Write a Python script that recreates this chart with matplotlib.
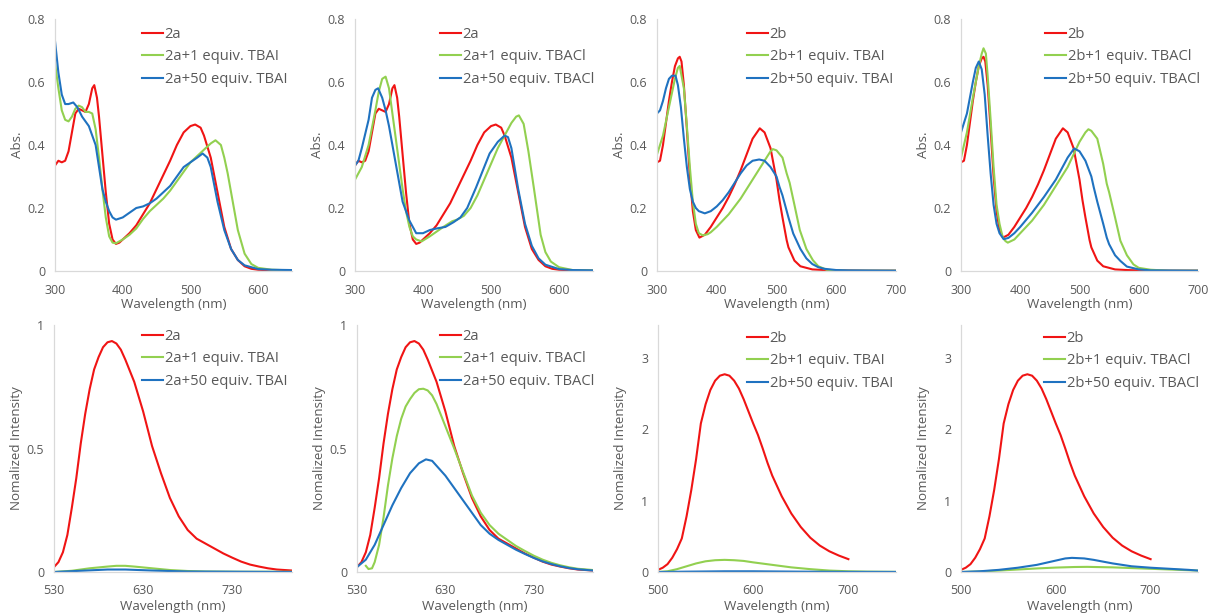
"""Absorption and emission spectra of 2a / 2b with TBAI and TBACl added."""
import matplotlib

matplotlib.use("Agg")
import matplotlib.pyplot as plt
from matplotlib.ticker import FuncFormatter

plt.rcParams["font.family"] = ["Open Sans", "DejaVu Sans"]

RED = "#F01414"
GREEN = "#92D050"
BLUE = "#1F72C0"
GREY = "#595959"
AXIS = "#D9D9D9"

# ---- UV-vis absorption -------------------------------------------------
abs_wl_2a = [300, 305, 310, 315, 320, 325, 330, 335, 340, 345, 350, 355, 358, 362, 365,
             370, 375, 380, 385, 390, 395, 400, 410, 420, 430, 440, 450, 460, 470, 480,
             490, 500, 507, 515, 520, 530, 540, 550, 560, 570, 580, 590, 600, 620, 650]
abs_2a = [0.335, 0.35, 0.345, 0.35, 0.38, 0.44, 0.50, 0.515, 0.51, 0.505, 0.53, 0.58, 0.59,
          0.55, 0.49, 0.37, 0.25, 0.15, 0.10, 0.086, 0.09, 0.10, 0.12, 0.145, 0.18, 0.215,
          0.26, 0.305, 0.35, 0.40, 0.44, 0.46, 0.465, 0.455, 0.43, 0.36, 0.25, 0.14, 0.07,
          0.035, 0.015, 0.007, 0.004, 0.002, 0.001]

abs_wl_2a_tbai1 = [300, 305, 310, 315, 320, 325, 330, 335, 340, 345, 350, 355, 360, 365, 370,
                   375, 380, 385, 390, 400, 410, 420, 430, 440, 450, 460, 470, 480, 490, 500,
                   510, 520, 530, 537, 545, 550, 555, 560, 570, 580, 590, 600, 620, 650]
abs_2a_tbai1 = [0.66, 0.58, 0.51, 0.48, 0.475, 0.49, 0.515, 0.525, 0.52, 0.505, 0.505, 0.50,
                0.45, 0.36, 0.26, 0.17, 0.11, 0.09, 0.088, 0.10, 0.115, 0.135, 0.165, 0.19,
                0.21, 0.23, 0.255, 0.285, 0.315, 0.345, 0.365, 0.385, 0.405, 0.415, 0.40,
                0.36, 0.31, 0.25, 0.13, 0.055, 0.022, 0.01, 0.004, 0.002]

abs_wl_2a_tbai50 = [300, 305, 310, 315, 320, 327, 333, 340, 345, 350, 355, 360, 365, 370, 375,
                    380, 385, 390, 400, 410, 420, 430, 440, 450, 460, 470, 480, 490, 500, 510,
                    518, 525, 530, 540, 550, 560, 570, 580, 600, 620, 650]
abs_2a_tbai50 = [0.73, 0.63, 0.56, 0.53, 0.53, 0.535, 0.52, 0.49, 0.475, 0.46, 0.43, 0.40,
                 0.33, 0.26, 0.22, 0.19, 0.17, 0.163, 0.17, 0.185, 0.20, 0.205, 0.215, 0.23,
                 0.25, 0.27, 0.30, 0.33, 0.345, 0.36, 0.373, 0.36, 0.33, 0.22, 0.13, 0.07,
                 0.035, 0.018, 0.006, 0.004, 0.003]

abs_wl_2a_tbacl1 = [300, 310, 320, 330, 335, 340, 345, 350, 355, 360, 365, 370, 375, 380, 385,
                    390, 398, 410, 420, 430, 443, 450, 460, 470, 480, 490, 500, 510, 520, 530,
                    537, 541, 548, 555, 563, 573, 580, 588, 600, 620, 650]
abs_2a_tbacl1 = [0.29, 0.33, 0.40, 0.51, 0.57, 0.61, 0.617, 0.58, 0.50, 0.42, 0.34, 0.26, 0.19,
                 0.14, 0.11, 0.10, 0.094, 0.11, 0.125, 0.14, 0.158, 0.163, 0.175, 0.20, 0.24,
                 0.29, 0.34, 0.39, 0.43, 0.47, 0.49, 0.494, 0.467, 0.38, 0.264, 0.115, 0.06,
                 0.03, 0.012, 0.003, 0.002]

abs_wl_2a_tbacl50 = [300, 305, 310, 320, 325, 330, 334, 340, 345, 350, 355, 360, 365, 370, 375,
                     380, 390, 400, 410, 420, 433, 445, 455, 465, 478, 490, 498, 510, 520, 525,
                     530, 540, 550, 560, 570, 580, 600, 620, 650]
abs_2a_tbacl50 = [0.335, 0.35, 0.39, 0.48, 0.55, 0.575, 0.58, 0.55, 0.51, 0.46, 0.40, 0.34,
                  0.28, 0.22, 0.19, 0.16, 0.12, 0.12, 0.13, 0.135, 0.14, 0.155, 0.17, 0.20,
                  0.265, 0.33, 0.373, 0.41, 0.43, 0.425, 0.39, 0.26, 0.15, 0.08, 0.04, 0.02,
                  0.006, 0.003, 0.002]

abs_wl_2b = [300, 305, 310, 315, 320, 325, 330, 335, 338, 341, 345, 350, 355, 360, 365, 371,
             380, 390, 400, 410, 420, 430, 440, 450, 460, 472, 480, 490, 500, 505, 510, 517,
             520, 530, 540, 560, 580, 600, 650, 700]
abs_2b = [0.345, 0.35, 0.40, 0.47, 0.54, 0.60, 0.65, 0.675, 0.68, 0.665, 0.59, 0.45, 0.30,
          0.19, 0.13, 0.106, 0.115, 0.14, 0.17, 0.20, 0.235, 0.275, 0.32, 0.37, 0.42, 0.453,
          0.44, 0.39, 0.29, 0.225, 0.17, 0.098, 0.075, 0.033, 0.015, 0.005, 0.003, 0.002,
          0.001, 0.001]

abs_wl_2b_tbai1 = [300, 310, 320, 330, 335, 338, 345, 350, 355, 360, 365, 370, 377, 385, 390,
                   400, 420, 440, 460, 480, 490, 494, 500, 510, 517, 522, 530, 539, 550, 561,
                   570, 584, 600, 620, 700]
abs_2b_tbai1 = [0.37, 0.43, 0.52, 0.61, 0.645, 0.651, 0.58, 0.46, 0.33, 0.22, 0.15, 0.12,
                0.113, 0.117, 0.123, 0.14, 0.18, 0.23, 0.29, 0.35, 0.38, 0.387, 0.383, 0.36,
                0.31, 0.28, 0.21, 0.13, 0.07, 0.034, 0.015, 0.004, 0.002, 0.001, 0.001]

abs_wl_2b_tbai50 = [300, 305, 310, 315, 320, 325, 331, 335, 340, 345, 350, 355, 360, 365, 370,
                    380, 390, 400, 410, 420, 430, 440, 450, 460, 471, 480, 490, 500, 505, 510,
                    520, 528, 540, 550, 560, 570, 580, 600, 620, 700]
abs_2b_tbai50 = [0.50, 0.51, 0.54, 0.58, 0.61, 0.62, 0.62, 0.59, 0.52, 0.42, 0.33, 0.26, 0.22,
                 0.20, 0.19, 0.183, 0.19, 0.205, 0.225, 0.25, 0.28, 0.31, 0.335, 0.35, 0.354,
                 0.35, 0.33, 0.30, 0.267, 0.24, 0.17, 0.119, 0.07, 0.04, 0.022, 0.012, 0.007,
                 0.003, 0.002, 0.001]

abs_wl_2b_tbacl1 = [300, 310, 320, 330, 335, 338, 342, 345, 350, 355, 360, 365, 370, 375, 379,
                    390, 400, 420, 440, 460, 480, 490, 500, 510, 515, 520, 530, 540, 546, 550,
                    560, 569, 580, 591, 600, 620, 650, 700]
abs_2b_tbacl1 = [0.36, 0.44, 0.55, 0.65, 0.69, 0.707, 0.69, 0.62, 0.48, 0.33, 0.21, 0.15, 0.11,
                 0.095, 0.09, 0.10, 0.12, 0.16, 0.21, 0.27, 0.33, 0.37, 0.41, 0.44, 0.45, 0.445,
                 0.42, 0.34, 0.277, 0.25, 0.17, 0.096, 0.05, 0.021, 0.01, 0.004, 0.001, 0.001]

abs_wl_2b_tbacl50 = [300, 305, 310, 315, 320, 325, 330, 335, 340, 345, 350, 355, 360, 365, 372,
                     380, 390, 400, 420, 440, 460, 470, 480, 491, 500, 510, 520, 524, 530, 540,
                     546, 550, 560, 569, 580, 600, 620, 700]
abs_2b_tbacl50 = [0.44, 0.47, 0.50, 0.55, 0.60, 0.645, 0.665, 0.64, 0.56, 0.43, 0.31, 0.21,
                  0.15, 0.12, 0.101, 0.105, 0.12, 0.14, 0.185, 0.235, 0.29, 0.325, 0.36, 0.389,
                  0.38, 0.35, 0.30, 0.266, 0.22, 0.15, 0.106, 0.085, 0.05, 0.032, 0.014, 0.005,
                  0.002, 0.001]

# ---- emission ----------------------------------------------------------
em_wl_2a = [530, 535, 540, 545, 550, 555, 560, 565, 570, 575, 580, 585, 590, 595, 600, 605,
            610, 620, 630, 640, 650, 660, 670, 680, 690, 700, 710, 720, 730, 740, 750, 760,
            770, 780, 797]
em_2a = [0.02, 0.04, 0.08, 0.15, 0.26, 0.38, 0.52, 0.64, 0.74, 0.82, 0.87, 0.91, 0.93, 0.935,
         0.925, 0.90, 0.86, 0.77, 0.65, 0.51, 0.40, 0.30, 0.225, 0.17, 0.135, 0.115, 0.095,
         0.075, 0.058, 0.042, 0.03, 0.022, 0.015, 0.01, 0.006]

em_wl_2a_tbai1 = [530, 550, 570, 590, 600, 610, 620, 640, 660, 680, 700, 740, 797]
em_2a_tbai1 = [0.0, 0.005, 0.015, 0.022, 0.025, 0.025, 0.022, 0.015, 0.008, 0.004, 0.002,
               0.001, 0.001]

em_wl_2a_tbai50 = [530, 560, 590, 610, 640, 680, 797]
em_2a_tbai50 = [0.0, 0.005, 0.01, 0.01, 0.006, 0.002, 0.0]

em_wl_2a_tbacl1 = [540, 543, 547, 550, 555, 560, 565, 570, 575, 580, 585, 590, 595, 600, 605,
                   610, 615, 620, 630, 640, 650, 660, 670, 680, 690, 700, 710, 720, 730, 740,
                   750, 760, 770, 780, 797]
em_2a_tbacl1 = [0.025, 0.012, 0.015, 0.04, 0.11, 0.22, 0.35, 0.46, 0.55, 0.62, 0.67, 0.70,
                0.725, 0.74, 0.742, 0.735, 0.715, 0.68, 0.59, 0.50, 0.405, 0.31, 0.24, 0.19,
                0.155, 0.13, 0.105, 0.085, 0.066, 0.05, 0.037, 0.027, 0.019, 0.013, 0.008]

em_wl_2a_tbacl50 = [530, 540, 550, 560, 570, 580, 590, 600, 608, 615, 620, 630, 640, 650, 660,
                    670, 680, 690, 700, 710, 720, 730, 740, 750, 760, 770, 780, 797]
em_2a_tbacl50 = [0.02, 0.05, 0.11, 0.19, 0.27, 0.34, 0.40, 0.44, 0.456, 0.45, 0.43, 0.39, 0.34,
                 0.29, 0.24, 0.19, 0.155, 0.13, 0.11, 0.09, 0.073, 0.057, 0.043, 0.032, 0.023,
                 0.016, 0.011, 0.006]

em_wl_2b = [500, 505, 510, 515, 520, 525, 530, 535, 540, 545, 550, 555, 560, 565, 570, 575,
            580, 585, 590, 595, 600, 605, 610, 615, 620, 630, 640, 650, 660, 670, 680, 690, 700]
em_2b = [0.03, 0.06, 0.11, 0.2, 0.32, 0.47, 0.78, 1.15, 1.58, 2.08, 2.35, 2.55, 2.68, 2.75,
         2.77, 2.75, 2.68, 2.57, 2.42, 2.25, 2.08, 1.92, 1.73, 1.53, 1.35, 1.06, 0.82, 0.63,
         0.48, 0.37, 0.29, 0.23, 0.18]

em_wl_2b_tbai1 = [500, 510, 520, 530, 540, 550, 560, 570, 580, 590, 600, 620, 640, 660, 680,
                  700, 720, 750]
em_2b_tbai1 = [0.0, 0.01, 0.04, 0.08, 0.12, 0.15, 0.165, 0.17, 0.165, 0.155, 0.135, 0.1, 0.065,
               0.04, 0.02, 0.01, 0.005, 0.002]

em_wl_2b_tbai50 = [500, 530, 570, 600, 650, 700, 750]
em_2b_tbai50 = [0.0, 0.005, 0.01, 0.01, 0.005, 0.002, 0.001]

em_wl_2b_tbacl1 = [500, 520, 540, 560, 580, 600, 620, 633, 660, 700, 730, 750]
em_2b_tbacl1 = [0.0, 0.008, 0.02, 0.035, 0.05, 0.062, 0.07, 0.072, 0.065, 0.045, 0.03, 0.02]

em_wl_2b_tbacl50 = [500, 520, 540, 560, 580, 600, 610, 617, 630, 640, 660, 680, 700, 720, 740,
                    750]
em_2b_tbacl50 = [0.0, 0.01, 0.03, 0.06, 0.1, 0.16, 0.19, 0.198, 0.19, 0.17, 0.12, 0.08, 0.06,
                 0.045, 0.03, 0.02]

W, H = 1209, 613


def rect(left, right, top, bottom):
    return [left / W, 1 - bottom / H, (right - left) / W, (bottom - top) / H]


def series(cmpd, salt, curves):
    labels = [cmpd, f"{cmpd}+1 equiv. {salt}", f"{cmpd}+50 equiv. {salt}"]
    return [(x, y, c, lab) for (x, y), c, lab in zip(curves, (RED, GREEN, BLUE), labels)]


panels = [
    # (box px, xlim, xticks, ylim, yticks, ylabel, legend anchor px, curves)
    ((55, 292, 19, 271), (300, 650), [300, 400, 500, 600], (0, 0.8), [0, 0.2, 0.4, 0.6, 0.8],
     "Abs.", (142, 27),
     series("2a", "TBAI", [(abs_wl_2a, abs_2a), (abs_wl_2a_tbai1, abs_2a_tbai1),
                           (abs_wl_2a_tbai50, abs_2a_tbai50)])),
    ((355, 593, 19, 271), (300, 650), [300, 400, 500, 600], (0, 0.8), [0, 0.2, 0.4, 0.6, 0.8],
     "Abs.", (440, 27),
     series("2a", "TBACl", [(abs_wl_2a, abs_2a), (abs_wl_2a_tbacl1, abs_2a_tbacl1),
                            (abs_wl_2a_tbacl50, abs_2a_tbacl50)])),
    ((657, 896, 19, 271), (300, 700), [300, 400, 500, 600, 700], (0, 0.8),
     [0, 0.2, 0.4, 0.6, 0.8], "Abs.", (747, 27),
     series("2b", "TBAI", [(abs_wl_2b, abs_2b), (abs_wl_2b_tbai1, abs_2b_tbai1),
                           (abs_wl_2b_tbai50, abs_2b_tbai50)])),
    ((961, 1198, 19, 271), (300, 700), [300, 400, 500, 600, 700], (0, 0.8),
     [0, 0.2, 0.4, 0.6, 0.8], "Abs.", (1045, 27),
     series("2b", "TBACl", [(abs_wl_2b, abs_2b), (abs_wl_2b_tbacl1, abs_2b_tbacl1),
                            (abs_wl_2b_tbacl50, abs_2b_tbacl50)])),
    ((54, 292, 325, 572), (530, 797), [530, 630, 730], (0, 1), [0, 0.5, 1],
     "Nomalized Intensity", (142, 329),
     series("2a", "TBAI", [(em_wl_2a, em_2a), (em_wl_2a_tbai1, em_2a_tbai1),
                           (em_wl_2a_tbai50, em_2a_tbai50)])),
    ((357, 593, 325, 572), (530, 797), [530, 630, 730], (0, 1), [0, 0.5, 1],
     "Nomalized Intensity", (440, 329),
     series("2a", "TBACl", [(em_wl_2a, em_2a), (em_wl_2a_tbacl1, em_2a_tbacl1),
                            (em_wl_2a_tbacl50, em_2a_tbacl50)])),
    ((658, 896, 325, 572), (500, 750), [500, 600, 700], (0, 3.46), [0, 1, 2, 3],
     "Nomalized Intensity", (747, 331),
     series("2b", "TBAI", [(em_wl_2b, em_2b), (em_wl_2b_tbai1, em_2b_tbai1),
                           (em_wl_2b_tbai50, em_2b_tbai50)])),
    ((961, 1198, 325, 572), (500, 750), [500, 600, 700], (0, 3.46), [0, 1, 2, 3],
     "Nomalized Intensity", (1044, 331),
     series("2b", "TBACl", [(em_wl_2b, em_2b), (em_wl_2b_tbacl1, em_2b_tbacl1),
                            (em_wl_2b_tbacl50, em_2b_tbacl50)])),
]

fig = plt.figure(figsize=(W / 100, H / 100), dpi=100)

for i, (box, xlim, xticks, ylim, yticks, ylabel, anchor, curves) in enumerate(panels):
    ax = fig.add_axes(rect(*box))
    for x, y, color, label in curves:
        ax.plot(x, y, color=color, lw=1.5, label=label)
    ax.set_xlim(*xlim)
    ax.set_ylim(*ylim)
    ax.set_xticks(xticks)
    ax.set_yticks(yticks)
    ax.xaxis.set_major_formatter(FuncFormatter(lambda v, _: f"{v:g}"))
    ax.yaxis.set_major_formatter(FuncFormatter(lambda v, _: f"{v:g}"))
    ax.spines[["top", "right"]].set_visible(False)
    ax.spines[["left", "bottom"]].set_color(AXIS)
    ax.spines[["left", "bottom"]].set_linewidth(0.9)
    top_row = i < 4
    ax.tick_params(length=0, labelsize=9, colors=GREY)
    ax.tick_params(axis="x", pad=9)
    ax.tick_params(axis="y", pad=7)
    ax.set_xlabel("Wavelength (nm)", fontsize=9.6, color=GREY, va="center")
    ax.set_ylabel(ylabel, fontsize=9.6, color=GREY)
    ax.xaxis.set_label_coords(0.5, -0.131 if top_row else -0.138)
    ax.yaxis.set_label_coords(-0.13, 0.5)
    ax.legend(loc="upper left", bbox_to_anchor=(anchor[0] / W, 1 - anchor[1] / H),
              bbox_transform=fig.transFigure, frameon=False, fontsize=10.6,
              handlelength=1.45, handletextpad=0.08, labelspacing=0.5,
              borderpad=0, borderaxespad=0, labelcolor=GREY)

fig.savefig("out.png", dpi=100)
